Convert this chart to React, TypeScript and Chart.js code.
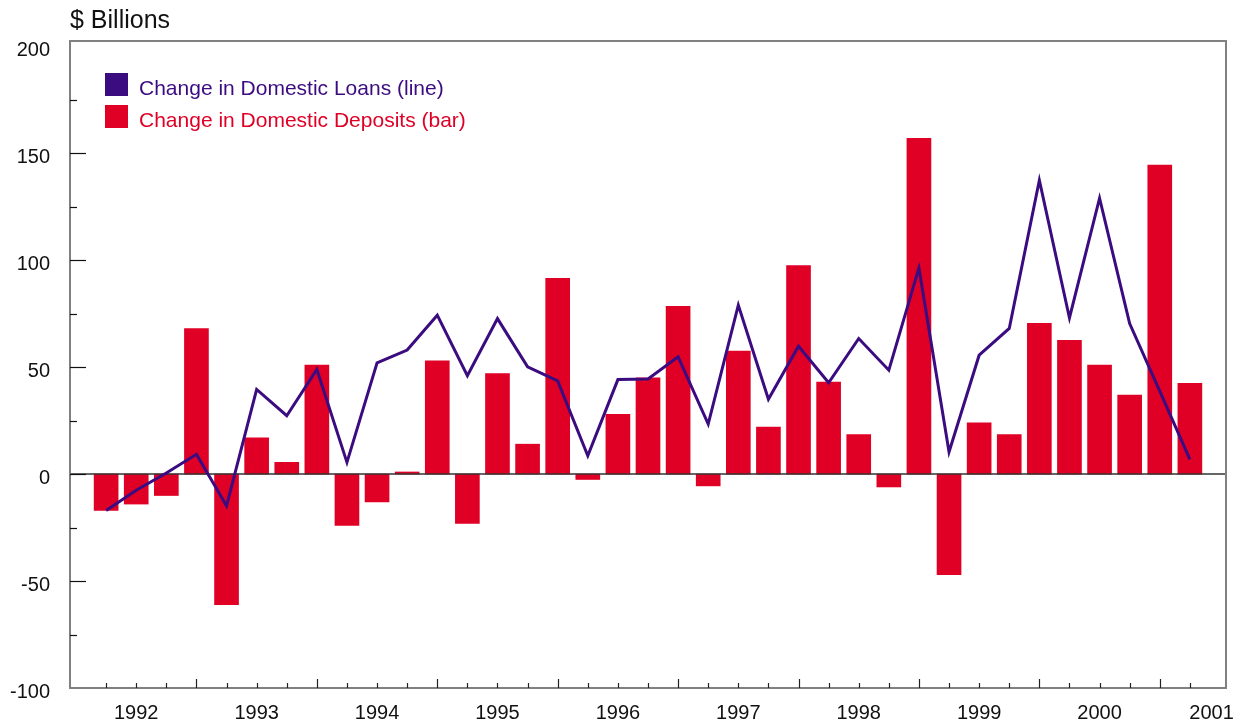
import React, { useEffect, useRef } from "react";
import { Chart, registerables } from "chart.js";

Chart.register(...registerables);

// Quarters 1992Q1 .. 2001Q1
const QUARTERS: string[] = [
  "1992Q1", "1992Q2", "1992Q3", "1992Q4",
  "1993Q1", "1993Q2", "1993Q3", "1993Q4",
  "1994Q1", "1994Q2", "1994Q3", "1994Q4",
  "1995Q1", "1995Q2", "1995Q3", "1995Q4",
  "1996Q1", "1996Q2", "1996Q3", "1996Q4",
  "1997Q1", "1997Q2", "1997Q3", "1997Q4",
  "1998Q1", "1998Q2", "1998Q3", "1998Q4",
  "1999Q1", "1999Q2", "1999Q3", "1999Q4",
  "2000Q1", "2000Q2", "2000Q3", "2000Q4",
  "2001Q1",
];

// Change in Domestic Deposits (bar), $ billions
const DEPOSITS: number[] = [
  -17, -14, -10, 68, -61, 17, 5.5, 51,
  -24, -13, 1, 53, -23, 47, 14, 91.5,
  -2.5, 28, 45, 78.5, -5.5, 57.5, 22, 97.5,
  43, 18.5, -6, 157, -47, 24, 18.5, 70.5,
  62.5, 51, 37, 144.5, 42.5,
];

// Change in Domestic Loans (line), $ billions
const LOANS: number[] = [
  -17, -7.5, 0.5, 9.3, -14.8, 39.6, 27.3, 48.9,
  5.5, 52, 58, 74.3, 46, 72.7, 50.2, 43.6,
  8.6, 44.2, 44.5, 54.8, 23.4, 79, 35, 59.8,
  42.7, 63.4, 48.6, 96.4, 10.4, 55.6, 68.1, 137.4,
  73, 129, 70.4, 38.8, 6.9,
];

const Y_TICKS: number[] = [-100, -50, 0, 50, 100, 150, 200];
const Y_MINOR_TICKS: number[] = [-75, -50, -25, 0, 25, 50, 75, 100, 125, 150, 175];
const X_TICK_POS: number[] = [1, 5, 9, 13, 17, 21, 25, 29, 33, 36.72];
const X_TICK_LABELS: string[] = ["1992", "1993", "1994", "1995", "1996", "1997", "1998", "1999", "2000", "2001"];

const RED = "#e00026";
const PURPLE = "#3b0b80";
const FONT = "'Liberation Sans', Arial, Helvetica, sans-serif";

const decorPlugin = {
  id: "decor",
  afterDatasetDraw(chart: any, args: any) {
    if (args.index !== 1) return; // after bars
    const { ctx, chartArea, scales } = chart;
    const y0 = scales.y.getPixelForValue(0);
    ctx.save();
    ctx.strokeStyle = "#333333";
    ctx.lineWidth = 1.5;
    ctx.beginPath();
    ctx.moveTo(chartArea.left, y0);
    ctx.lineTo(chartArea.right, y0);
    ctx.stroke();
    ctx.restore();
  },
  afterDraw(chart: any) {
    const { ctx, chartArea, scales } = chart;
    const { left, right, top, bottom } = chartArea;
    ctx.save();
    // frame
    ctx.strokeStyle = "#808080";
    ctx.lineWidth = 2;
    ctx.strokeRect(left, top, right - left, bottom - top);
    // y ticks (inward)
    ctx.strokeStyle = "#111111";
    ctx.lineWidth = 1.2;
    Y_MINOR_TICKS.forEach((v) => {
      const y = Math.round(scales.y.getPixelForValue(v)) + 0.5;
      const len = v % 50 === 0 ? 16 : 7;
      ctx.beginPath();
      ctx.moveTo(left, y);
      ctx.lineTo(left + len, y);
      ctx.stroke();
    });
    // x ticks (inward) at every quarter
    ctx.strokeStyle = "#222222";
    QUARTERS.forEach((q, i) => {
      const x = Math.round(scales.x.getPixelForValue(i)) + 0.5;
      const len = q.endsWith("Q4") ? 9 : 5;
      ctx.beginPath();
      ctx.moveTo(x, bottom);
      ctx.lineTo(x, bottom - len);
      ctx.stroke();
    });
    // title
    ctx.fillStyle = "#111111";
    ctx.font = `25px ${FONT}`;
    ctx.textAlign = "left";
    ctx.textBaseline = "alphabetic";
    ctx.fillText("$ Billions", left, 28);
    // legend
    const items = [
      { text: "Change in Domestic Loans (line)", color: PURPLE },
      { text: "Change in Domestic Deposits (bar)", color: RED },
    ];
    ctx.font = `21px ${FONT}`;
    items.forEach((it, i) => {
      const sx = left + 35;
      const sy = top + 32 + i * 32;
      ctx.fillStyle = it.color;
      ctx.fillRect(sx, sy, 23, 23);
      ctx.fillText(it.text, sx + 34, sy + 22);
    });
    ctx.restore();
  },
};

export default function App() {
  const canvasRef = useRef<HTMLCanvasElement | null>(null);

  useEffect(() => {
    if (!canvasRef.current) return;
    const chart = new Chart(canvasRef.current, {
      type: "bar",
      data: {
        datasets: [
          {
            type: "line",
            label: "Change in Domestic Loans (line)",
            data: LOANS.map((v, i) => ({ x: i, y: v })),
            borderColor: PURPLE,
            backgroundColor: PURPLE,
            borderWidth: 3,
            pointRadius: 0,
            tension: 0,
            order: 0,
          } as any,
          {
            type: "bar",
            label: "Change in Domestic Deposits (bar)",
            data: DEPOSITS.map((v, i) => ({ x: i, y: v })),
            backgroundColor: RED,
            borderWidth: 0,
            barThickness: 24,
            order: 1,
          } as any,
        ],
      },
      options: {
        animation: false,
        responsive: true,
        maintainAspectRatio: false,
        layout: { padding: { top: 41, right: 24, left: 0, bottom: 0 } },
        plugins: {
          legend: { display: false },
          tooltip: { enabled: false },
          title: { display: false },
        },
        scales: {
          x: {
            type: "linear",
            offset: false,
            min: -1.2,
            max: 37.2,
            grid: { display: false, drawTicks: false, offset: false },
            border: { display: false },
            afterBuildTicks: (scale: any) => {
              scale.ticks = X_TICK_POS.map((v) => ({ value: v }));
            },
            afterFit: (scale: any) => {
              scale.height = 38;
            },
            ticks: {
              autoSkip: false,
              maxRotation: 0,
              padding: 13,
              color: "#111111",
              font: { family: FONT, size: 20 },
              callback: (_v: any, idx: number) => X_TICK_LABELS[idx],
            },
          },
          y: {
            type: "linear",
            min: -100,
            max: 202.5,
            grid: { display: false, drawTicks: false },
            border: { display: false },
            afterBuildTicks: (scale: any) => {
              scale.ticks = Y_TICKS.map((v) => ({ value: v }));
            },
            afterFit: (scale: any) => {
              scale.width = 70;
            },
            ticks: {
              padding: 20,
              labelOffset: 4,
              color: "#111111",
              font: { family: FONT, size: 20 },
              callback: (v: any) => String(v),
            },
          },
        },
      },
      plugins: [decorPlugin],
    });
    return () => chart.destroy();
  }, []);

  return (
    <div style={{ position: "absolute", left: 0, top: 0, width: 1250, height: 726, background: "#fff" }}>
      <canvas ref={canvasRef} />
    </div>
  );
}
